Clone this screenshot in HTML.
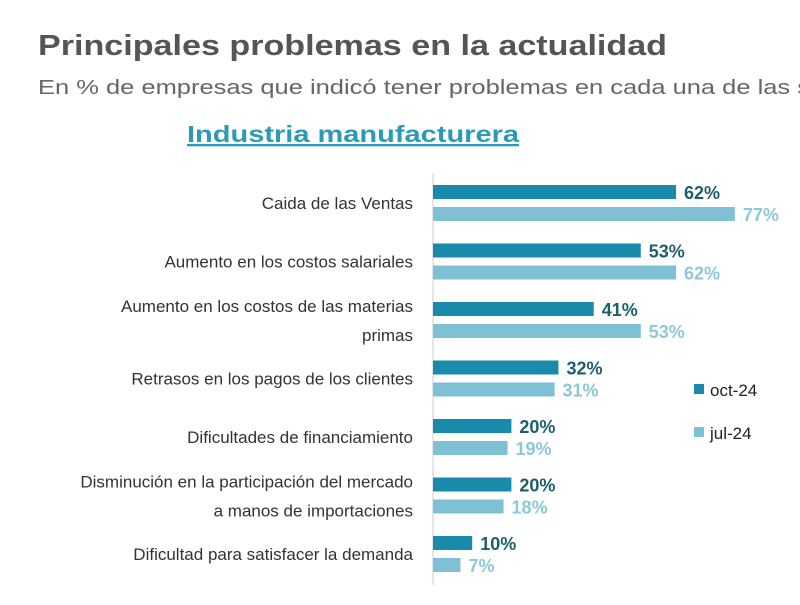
<!DOCTYPE html>
<html><head><meta charset="utf-8"><style>
body{margin:0;background:#fff;}
svg{display:block;font-family:"Liberation Sans",Arial,sans-serif;}
</style></head><body>
<svg id="chart" width="800" height="605" viewBox="0 0 800 605">
<text x="38" y="55" font-size="29" font-weight="bold" fill="#555" textLength="629" lengthAdjust="spacingAndGlyphs">Principales problemas en la actualidad</text>
<text x="38" y="94" font-size="20" fill="#666" textLength="772" lengthAdjust="spacingAndGlyphs">En % de empresas que indicó tener problemas en cada una de las s</text>
<text x="187" y="142" font-size="23" font-weight="bold" fill="#2a9bb5" text-decoration="underline" textLength="332" lengthAdjust="spacingAndGlyphs">Industria manufacturera</text>
<line x1="433" y1="173" x2="433" y2="585" stroke="#ccc" stroke-width="1"/>
<g id="bars"></g>
<rect x="694" y="384" width="10" height="10" fill="#1a8aaa"/>
<text x="710" y="396" font-size="17" fill="#222">oct-24</text>
<rect x="694" y="427" width="10" height="10" fill="#7fc0d4"/>
<text x="710" y="439" font-size="17" fill="#222">jul-24</text>
</svg>
<script>
const categories=[["Caida de las Ventas"],["Aumento en los costos salariales"],["Aumento en los costos de las materias","primas"],["Retrasos en los pagos de los clientes"],["Dificultades de financiamiento"],["Disminución en la participación del mercado","a manos de importaciones"],["Dificultad para satisfacer la demanda"]];
const octValues=[62,53,41,32,20,20,10];
const julValues=[77,62,53,31,19,18,7];
const ns="http://www.w3.org/2000/svg";
const g=document.getElementById('bars');
function xScale(v){return v*3.92;}
function rowY(i){return 185+i*58.5;}
function mk(tag,attrs){const e=document.createElementNS(ns,tag);for(const k in attrs)e.setAttribute(k,attrs[k]);g.appendChild(e);return e;}
categories.forEach((c,i)=>{
  const y=rowY(i);
  const b1=mk('rect',{x:433,y:y,width:xScale(octValues[i]),height:14,fill:'#1a8aaa'});
  
  
  const b2=mk('rect',{x:433,y:y+22,width:xScale(julValues[i]),height:14,fill:'#7fc0d4'});
  
  
  const t1=mk('text',{x:433+xScale(octValues[i])+8,y:y+14,'font-size':18,'font-weight':'bold',fill:'#1b5f6e'});
  t1.textContent=octValues[i]+'%';
  
  
  const t2=mk('text',{x:433+xScale(julValues[i])+8,y:y+36,'font-size':18,'font-weight':'bold',fill:'#8cc8d8'});
  t2.textContent=julValues[i]+'%';
  
  
  const mid=y+18+6;
  c.forEach((line,j)=>{
    const ly=c.length===1?mid:mid-14+j*29;
    const t=mk('text',{x:413,y:ly,'font-size':17,fill:'#333','text-anchor':'end'});
    t.textContent=line;
    
    
  });
});
</script>
</body></html>
